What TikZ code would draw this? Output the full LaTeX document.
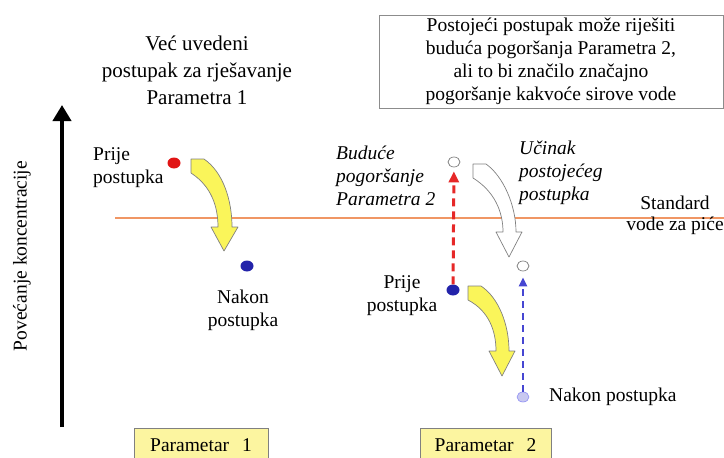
\documentclass[tikz,border=0pt]{standalone}
\usepackage{fontspec}
\setmainfont{Liberation Serif}
\usetikzlibrary{positioning,calc,arrows.meta,shapes.geometric}
\definecolor{stdorange}{RGB}{240,150,100}
\definecolor{dotred}{RGB}{225,20,20}
\definecolor{dotblue}{RGB}{35,35,170}
\definecolor{dotlav}{RGB}{200,200,240}
\definecolor{dashred}{RGB}{230,40,40}
\definecolor{dashblue}{RGB}{70,70,210}
\definecolor{arryellow}{RGB}{250,245,90}
\definecolor{boxyellow}{RGB}{252,245,160}
\tikzset{font=\fontsize{19.5}{23}\selectfont}

\begin{document}
\begin{tikzpicture}[x=1pt, y=-1pt]
	\useasboundingbox (0,0) rectangle (724,458);
	\tikzstyle{every node}=[align=center, inner sep=1pt]
	\tikzstyle{spot}=[ellipse, minimum width=13pt, minimum height=11pt, inner sep=0pt]
	\tikzstyle{hollow}=[spot, minimum width=12pt, minimum height=10pt, draw=gray, fill=white, line width=0.7pt]
	\tikzstyle{parbox}=[draw=black!50, fill=boxyellow, minimum height=34pt, anchor=north]
	\tikzstyle{blockarrow}=[draw=black!50, line width=0.7pt, line join=round]

	% axis and standard line
	\coordinate (ybot) at (62,427);
	\coordinate (ytop) at (62,105);
	\draw [line width=4pt, -{Triangle[length=16pt, width=18pt]}] (ybot) to (ytop);
	\node [rotate=90] (ylab) at (22,256) {Povećanje koncentracije};
	\coordinate (stdl) at (115,218);
	\coordinate (stdr) at (724,218);
	\draw [stdorange, line width=1.5pt] (stdl) to (stdr);
	\node (std) at (675,215) {Standard\\[-2pt]vode za piće};

	% parameter 1
	\node [font=\fontsize{21}{27}\selectfont] (title1) at (197,70) {Već uvedeni\\postupak za rješavanje\\Parametra 1};
	\node [spot, fill=dotred] (red1) at (174,163) {};
	\node [spot, fill=dotblue] (blue1) at (247,266) {};
	\node [align=left, anchor=west] (pre1) at (92,168) {Prije\\postupka};
	\node (post1) at (243,310) {Nakon\\postupka};
	\fill [arryellow, blockarrow] (191,159) -- (204,159) .. controls (223,172) and (232,200) .. (232,227)
		-- (238,227) -- (224,251) -- (211,227) -- (218,227) .. controls (218,206) and (211,186) .. (191,173) -- cycle;
	\node [parbox, minimum width=134pt] (par1) at (201,428) {Parametar\hspace{8pt} 1};

	% parameter 2
	\node [draw=black!45, minimum width=344pt, minimum height=93pt] (note) at (551,61.5) {Postojeći postupak može riješiti\\buduća pogoršanja Parametra 2,\\ali to bi značilo značajno\\pogoršanje kakvoće sirove vode};
	\node [hollow] (fut2) at (454,162) {};
	\node [spot, fill=dotblue] (blue2) at (453,290) {};
	\node [hollow] (eff2) at (523,266) {};
	\node [spot, minimum width=12pt, minimum height=10pt, draw=dotlav!70!blue, fill=dotlav, line width=0.6pt] (aft2) at (523,397) {};
	\node [align=left, anchor=west, font=\fontsize{19.5}{23}\selectfont\itshape] (fut) at (335,176) {Buduće\\pogoršanje\\Parametra 2};
	\node [align=left, anchor=west, font=\fontsize{19.5}{23}\selectfont\itshape] (eff) at (518,173) {Učinak\\postojećeg\\postupka};
	\node (pre2) at (402,296) {Prije\\postupka};
	\node [anchor=west] (post2) at (548,397) {Nakon postupka};

	\draw [dashred, line width=3pt, dash pattern=on 8pt off 5pt, shorten >=4pt, -{Triangle[length=11pt, width=10pt]}] (blue2) to (fut2);
	\draw [dashblue, line width=2.5pt, dash pattern=on 7pt off 5pt, shorten >=6pt, -{Triangle[length=9pt, width=8pt]}] (aft2) to (eff2);

	\fill [white, blockarrow] (473,164) -- (486,164) .. controls (503,176) and (516,205) .. (516,232)
		-- (522,232) -- (509,257) -- (496,232) -- (503,232) .. controls (503,211) and (494,191) .. (473,178) -- cycle;
	\fill [arryellow, blockarrow] (468,286) -- (481,286) .. controls (499,298) and (509,325) .. (509,351)
		-- (515,351) -- (502,376) -- (489,351) -- (496,351) .. controls (496,331) and (489,311) .. (468,300) -- cycle;
	\node [parbox, minimum width=131pt] (par2) at (485.5,428) {Parametar\hspace{8pt} 2};
\end{tikzpicture}
\end{document}
